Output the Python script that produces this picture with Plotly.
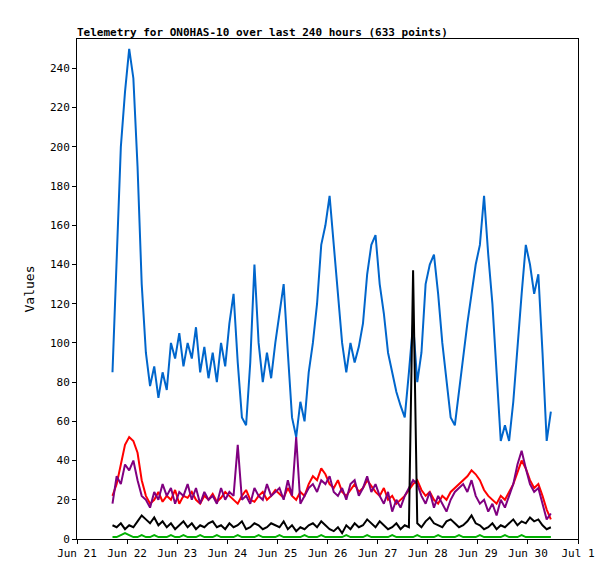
import pandas as pd
import plotly.graph_objects as go

# samples every 2 hours starting Jun 21 17:00
start = pd.Timestamp("2024-06-21 17:00")
step_hours = 2

blue = [85, 140, 200, 228, 250, 235, 190, 130, 95, 78, 88, 72, 85, 76, 100, 92, 105, 88, 100, 92,
        108, 85, 98, 82, 95, 80, 100, 88, 110, 125, 90, 62, 58, 90, 140, 100, 80, 95, 82, 100,
        115, 130, 95, 62, 52, 70, 60, 85, 100, 120, 150, 160, 175, 150, 125, 100, 85, 100, 90, 98,
        110, 135, 150, 155, 130, 115, 95, 85, 75, 68, 62, 85, 110, 80, 95, 130, 140, 145, 125, 100,
        80, 62, 58, 75, 95, 110, 125, 140, 150, 175, 145, 120, 85, 50, 58, 50, 70, 100, 125, 150,
        140, 125, 135, 95, 50, 65]
red = [22, 28, 38, 48, 52, 50, 44, 30, 22, 18, 20, 24, 19, 22, 20, 25, 18, 22, 21, 24,
       20, 18, 22, 20, 23, 19, 21, 24, 22, 20, 18, 22, 25, 20, 19, 22, 24, 20, 22, 25,
       23, 21, 26, 22, 20, 24, 22, 28, 32, 30, 36, 33, 28, 26, 30, 24, 22, 25, 28, 24,
       26, 30, 27, 24, 22, 26, 20, 22, 18, 20, 22, 25, 28, 30, 25, 22, 24, 20, 18, 22,
       20, 24, 26, 28, 30, 32, 35, 33, 30, 25, 22, 20, 18, 22, 20, 24, 28, 34, 40, 36,
       30, 26, 28, 22, 15, 10]
purple = [18, 32, 28, 38, 35, 40, 30, 22, 20, 16, 24, 20, 28, 22, 26, 18, 24, 22, 28, 20,
          26, 18, 24, 20, 22, 18, 26, 20, 24, 22, 48, 20, 22, 18, 26, 22, 20, 28, 22, 24,
          26, 20, 30, 22, 52, 18, 22, 26, 28, 24, 30, 28, 32, 24, 22, 26, 20, 28, 30, 22,
          26, 32, 24, 28, 22, 18, 24, 14, 20, 16, 22, 26, 30, 28, 22, 18, 24, 16, 22, 18,
          14, 20, 24, 26, 28, 24, 30, 22, 18, 20, 14, 18, 12, 20, 16, 22, 28, 38, 45, 36,
          28, 24, 26, 18, 10, 13]
black = [7, 6, 8, 5, 7, 6, 9, 12, 10, 8, 11, 7, 9, 6, 8, 5, 7, 9, 6, 8,
         5, 7, 6, 8, 9, 6, 7, 5, 8, 6, 7, 9, 5, 6, 8, 7, 5, 6, 8, 7,
         6, 9, 5, 7, 4, 6, 5, 7, 8, 6, 9, 7, 5, 4, 6, 3, 7, 5, 8, 6,
         7, 10, 8, 6, 9, 7, 5, 6, 8, 5, 7, 6, 137, 8, 6, 9, 11, 8, 7, 6,
         9, 10, 8, 6, 7, 9, 12, 8, 7, 5, 6, 8, 5, 7, 6, 8, 10, 7, 9, 8,
         11, 9, 10, 7, 5, 6]
green = [1, 1, 2, 3, 2, 1, 1, 2, 1, 1, 2, 1, 1, 1, 2, 1, 1, 2, 1, 1,
         1, 2, 1, 1, 1, 2, 1, 1, 1, 1, 2, 1, 1, 1, 1, 2, 1, 1, 1, 1,
         2, 1, 1, 1, 1, 1, 2, 1, 1, 1, 2, 1, 1, 1, 1, 1, 2, 1, 1, 1,
         1, 2, 1, 1, 1, 1, 1, 2, 1, 1, 1, 1, 1, 2, 1, 1, 1, 1, 2, 1,
         1, 1, 1, 2, 1, 1, 1, 1, 2, 1, 1, 1, 1, 1, 2, 1, 1, 1, 2, 1,
         1, 1, 1, 1, 1, 1]

times = [start + pd.Timedelta(hours=step_hours * i) for i in range(len(blue))]

series = [
    (green, '#00B000'),
    (blue, '#0066CC'),
    (red, '#FF0000'),
    (purple, '#800080'),
    (black, '#000000'),
]

fig = go.Figure()
for vals, col in series:
    fig.add_trace(go.Scatter(x=times, y=vals, mode='lines',
                             line=dict(color=col, width=2), showlegend=False))

mono = "DejaVu Sans Mono"
fig.update_layout(
    width=615, height=579,
    margin=dict(l=69, r=45, t=31, b=48),
    paper_bgcolor='white', plot_bgcolor='white',
    font=dict(family=mono, size=11, color='black'),
    title=dict(text="<b>Telemetry for ON0HAS-10 over last 240 hours (633 points)</b>",
               x=69/615, xanchor='left', y=1 - 24/579, yanchor='middle',
               font=dict(family=mono, size=11)),
    xaxis=dict(type='date', range=["2024-06-21", "2024-07-01"],
               tickvals=pd.date_range("2024-06-21", "2024-07-01", freq="D"),
               tickformat="%b %-d", showgrid=False, zeroline=False,
               showline=True, linecolor='black', mirror=True,
               ticks='outside', ticklen=4, tickcolor='black'),
    yaxis=dict(range=[0, 255], dtick=20, showgrid=False, zeroline=False,
               showline=True, linecolor='black', mirror=True,
               ticks='outside', ticklen=4, tickcolor='black',
               title=dict(text="Values", standoff=12)),
)

fig.write_html("out.html")
